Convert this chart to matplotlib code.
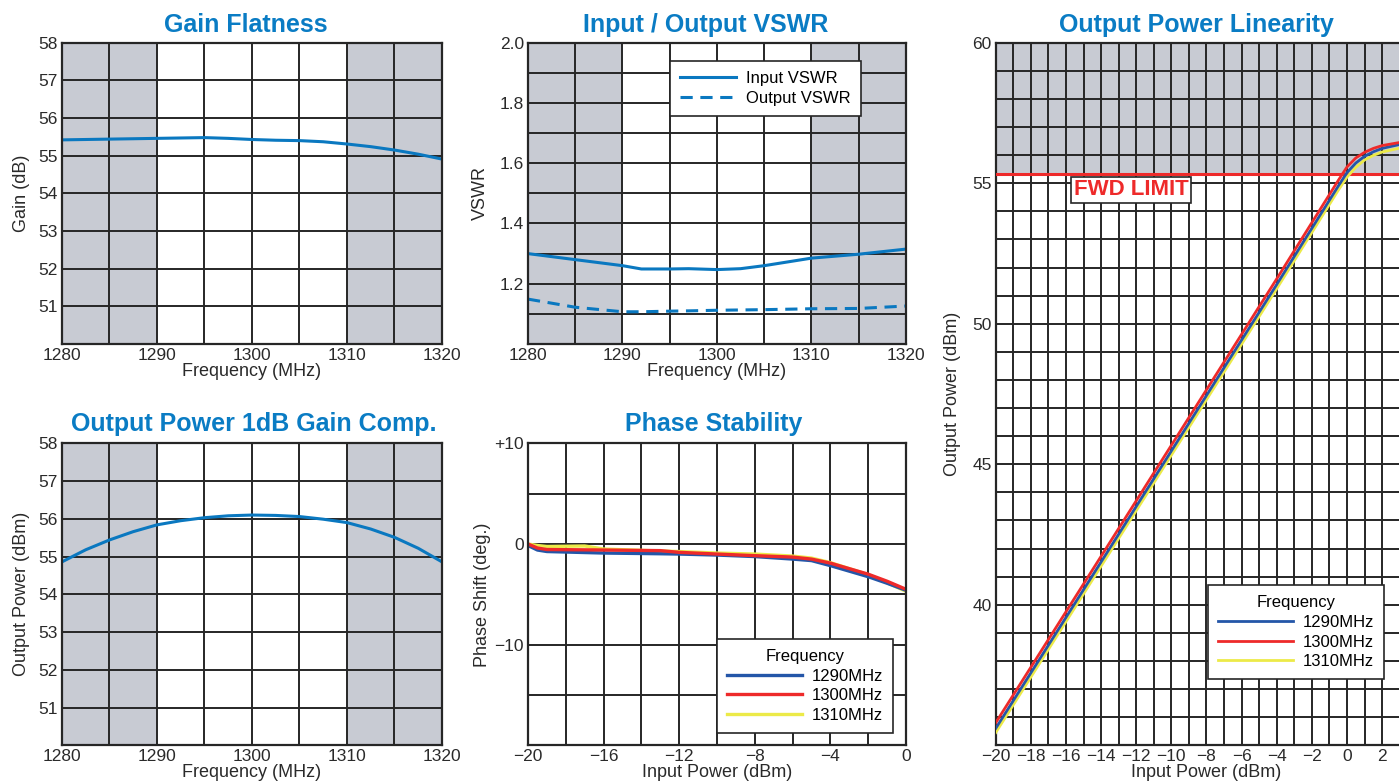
import numpy as np
import matplotlib
matplotlib.use("Agg")
import matplotlib.pyplot as plt
from matplotlib.ticker import MultipleLocator

# ---- data ----
freq = [1280, 1282.5, 1285, 1287.5, 1290, 1292.5, 1295, 1297.5, 1300,
        1302.5, 1305, 1307.5, 1310, 1312.5, 1315, 1317.5, 1320]
gain = [55.42, 55.43, 55.44, 55.45, 55.46, 55.47, 55.48, 55.46, 55.43,
        55.41, 55.40, 55.37, 55.31, 55.24, 55.15, 55.04, 54.91]
p1db = [54.86, 55.18, 55.44, 55.66, 55.84, 55.95, 56.03, 56.08, 56.10,
        56.09, 56.06, 55.99, 55.90, 55.73, 55.51, 55.22, 54.86]

vswr_f = [1280, 1285, 1290, 1292, 1295, 1297, 1300, 1302.5, 1305, 1310, 1315, 1320]
vswr_in = [1.300, 1.280, 1.260, 1.249, 1.249, 1.250, 1.247, 1.250, 1.260, 1.285, 1.298, 1.315]
vswr_out = [1.149, 1.122, 1.107, 1.107, 1.109, 1.110, 1.112, 1.113, 1.114, 1.117, 1.118, 1.126]

ph_x = [-20, -19.5, -19, -17, -16, -13, -12, -10, -8, -6, -5, -4, -3, -2, -1, 0]
ph_1290 = [-0.15, -0.6, -0.75, -0.85, -0.9, -0.97, -1.0, -1.1, -1.25, -1.5, -1.65, -2.15, -2.7, -3.25, -3.9, -4.6]
ph_1300 = [0.0, -0.4, -0.55, -0.58, -0.6, -0.66, -0.83, -1.0, -1.16, -1.3, -1.5, -1.9, -2.45, -3.0, -3.7, -4.5]
ph_1310 = [0.0, -0.15, -0.25, -0.2, -0.5, -0.7, -0.75, -0.9, -1.0, -1.2, -1.4, -1.85, -2.45, -3.05, -3.85, -4.7]

lin_x = [-20, -16, -12, -8, -4, -2, -1, -0.5, 0, 0.5, 1, 1.5, 2, 3, 4]
lin_1290 = [35.6, 39.55, 43.5, 47.45, 51.4, 53.4, 54.4, 54.9, 55.38, 55.72, 55.96, 56.12, 56.24, 56.38, 56.45]
lin_1300 = [35.8, 39.75, 43.7, 47.65, 51.6, 53.6, 54.6, 55.1, 55.58, 55.9, 56.1, 56.24, 56.34, 56.45, 56.52]
lin_1310 = [35.45, 39.4, 43.35, 47.3, 51.25, 53.25, 54.25, 54.75, 55.22, 55.57, 55.83, 55.99, 56.11, 56.25, 56.32]
fwd_limit = 55.32

# ---- style ----
TITLE_C = '#0a7cc4'
LINE_C = '#0a78c0'
SHADE = '#c8cbd3'
GRID_C = '#262626'
TXT_C = '#2a2a2a'
sans = ['Liberation Sans', 'DejaVu Sans']
plt.rcParams['font.family'] = sans

fig = plt.figure(figsize=(13.99, 7.82), dpi=100)


def frame(ax):
    for s in ax.spines.values():
        s.set_color(GRID_C)
        s.set_linewidth(1.6)
    ax.grid(True, which='both', color=GRID_C, lw=1.4)
    ax.set_axisbelow(True)
    ax.tick_params(which='both', length=0, pad=3, labelsize=12.5, colors=TXT_C)


def title(ax, s, pad=8, x=0.5):
    ax.set_title(s, color=TITLE_C, fontsize=18, fontweight='bold', pad=pad, x=x)


def freq_axes(ax):
    ax.set_xlim(1280, 1320)
    ax.xaxis.set_major_locator(MultipleLocator(10))
    ax.xaxis.set_minor_locator(MultipleLocator(5))
    ax.axvspan(1280, 1290, color=SHADE, zorder=0, lw=0)
    ax.axvspan(1310, 1320, color=SHADE, zorder=0, lw=0)
    ax.set_xlabel('Frequency (MHz)', fontsize=13, color=TXT_C, labelpad=0)


def box_legend(ax, handles, labels, anchor, loc, title_txt=None, hl=4.5):
    lg = ax.legend(handles, labels, title=title_txt, loc=loc, bbox_to_anchor=anchor,
                   fancybox=False, framealpha=1, edgecolor=GRID_C,
                   prop={'size': 12}, handlelength=hl, borderpad=0.6,
                   labelspacing=0.28, handletextpad=0.6, borderaxespad=0)
    if title_txt:
        lg.get_title().set_fontsize(12)
    lg.get_frame().set_linewidth(1.2)
    lg.set_zorder(6)
    return lg


# Gain Flatness
ax1 = fig.add_axes([0.0443, 0.5601, 0.2716, 0.3853])
freq_axes(ax1)
ax1.set_ylim(50, 58)
ax1.set_yticks(range(51, 59))
ax1.plot(freq, gain, color=LINE_C, lw=2.2)
ax1.set_ylabel('Gain (dB)', fontsize=13, color=TXT_C, labelpad=6)
title(ax1, 'Gain Flatness', x=0.485)
frame(ax1)

# VSWR
ax2 = fig.add_axes([0.3774, 0.5601, 0.2702, 0.3853])
freq_axes(ax2)
ax2.set_ylim(1.0, 2.0)
ax2.set_yticks([1.2, 1.4, 1.6, 1.8, 2.0])
ax2.set_yticklabels(['1.2', '1.4', '1.6', '1.8', '2.0'])
ax2.yaxis.set_minor_locator(MultipleLocator(0.1))
l_in, = ax2.plot(vswr_f, vswr_in, color=LINE_C, lw=2.2)
l_out, = ax2.plot(vswr_f, vswr_out, color=LINE_C, lw=2.2, ls=(0, (4, 2.5)))
ax2.set_ylabel('VSWR', fontsize=13, color=TXT_C, labelpad=8)
title(ax2, 'Input / Output VSWR', x=0.47)
frame(ax2)
box_legend(ax2, [l_in, l_out], ['Input VSWR', 'Output VSWR'],
           (0.881, 0.939), 'upper right', hl=3.4)

# 1dB Gain Comp
ax4 = fig.add_axes([0.0443, 0.0469, 0.2716, 0.3862])
freq_axes(ax4)
ax4.set_ylim(50, 58)
ax4.set_yticks(range(51, 59))
ax4.plot(freq, p1db, color=LINE_C, lw=2.2)
ax4.set_ylabel('Output Power (dBm)', fontsize=13, color=TXT_C, labelpad=6)
title(ax4, 'Output Power 1dB Gain Comp.', pad=9, x=0.505)
frame(ax4)

cols = {'1290MHz': '#2456a8', '1300MHz': '#ee2a2a', '1310MHz': '#ecea48'}
names = ['1290MHz', '1300MHz', '1310MHz']

# Phase Stability
ax5 = fig.add_axes([0.3774, 0.0469, 0.2702, 0.3862])
ax5.set_xlim(-20, 0)
ax5.set_ylim(-20, 10)
ax5.set_xticks([-20, -16, -12, -8, -4, 0])
ax5.set_xticklabels(['\u221220', '\u221216', '\u221212', '\u22128', '\u22124', '0'])
ax5.xaxis.set_minor_locator(MultipleLocator(2))
ax5.set_yticks([-10, 0, 10])
ax5.set_yticklabels(['\u221210', '0', '+10'])
ax5.yaxis.set_minor_locator(MultipleLocator(5))
ph = {'1290MHz': ph_1290, '1300MHz': ph_1300, '1310MHz': ph_1310}
hd = {}
for lab in ['1310MHz', '1290MHz', '1300MHz']:
    hd[lab], = ax5.plot(ph_x, ph[lab], color=cols[lab], lw=2.4)
ax5.set_xlabel('Input Power (dBm)', fontsize=13, color=TXT_C, labelpad=0)
ax5.set_ylabel('Phase Shift (deg.)', fontsize=13, color=TXT_C, labelpad=2)
title(ax5, 'Phase Stability', pad=9, x=0.49)
frame(ax5)
box_legend(ax5, [hd[n] for n in names], names, (0.966, 0.041), 'lower right',
           title_txt='Frequency', hl=4.5)

# Output Power Linearity (axes runs past the right edge of the figure)
ax3 = fig.add_axes([0.7117, 0.0469, 0.3014, 0.8985])
ax3.set_xlim(-20, 4)
ax3.set_ylim(35, 60)
ax3.set_xticks(range(-20, 3, 2))
ax3.set_xticklabels([('\u2212%d' % -v) if v < 0 else str(v) for v in range(-20, 3, 2)])
ax3.xaxis.set_minor_locator(MultipleLocator(1))
ax3.set_yticks([40, 45, 50, 55, 60])
ax3.yaxis.set_minor_locator(MultipleLocator(1))
ax3.axhspan(fwd_limit, 60, color=SHADE, zorder=0, lw=0)
ax3.axhline(fwd_limit, color='#ee2a2a', lw=2.2, zorder=3)
lin = {'1290MHz': lin_1290, '1300MHz': lin_1300, '1310MHz': lin_1310}
hd = {}
for lab in ['1310MHz', '1290MHz', '1300MHz']:
    hd[lab], = ax3.plot(lin_x, lin[lab], color=cols[lab], lw=2.0, zorder=4)
ax3.text(-12.3, 54.76, 'FWD LIMIT', color='#ee2a2a', fontsize=16, fontweight='bold',
         ha='center', va='center', zorder=5,
         bbox=dict(boxstyle='square,pad=0.12', fc='white', ec=GRID_C, lw=1.2))
ax3.set_xlabel('Input Power (dBm)', fontsize=13, color=TXT_C, labelpad=0)
ax3.set_ylabel('Output Power (dBm)', fontsize=13, color=TXT_C, labelpad=8)
title(ax3, 'Output Power Linearity', x=0.477)
frame(ax3)
box_legend(ax3, [hd[n] for n in names], names, (0.9215, 0.094), 'lower right',
           title_txt='Frequency', hl=4.5)

fig.savefig('out.png', dpi=100)
